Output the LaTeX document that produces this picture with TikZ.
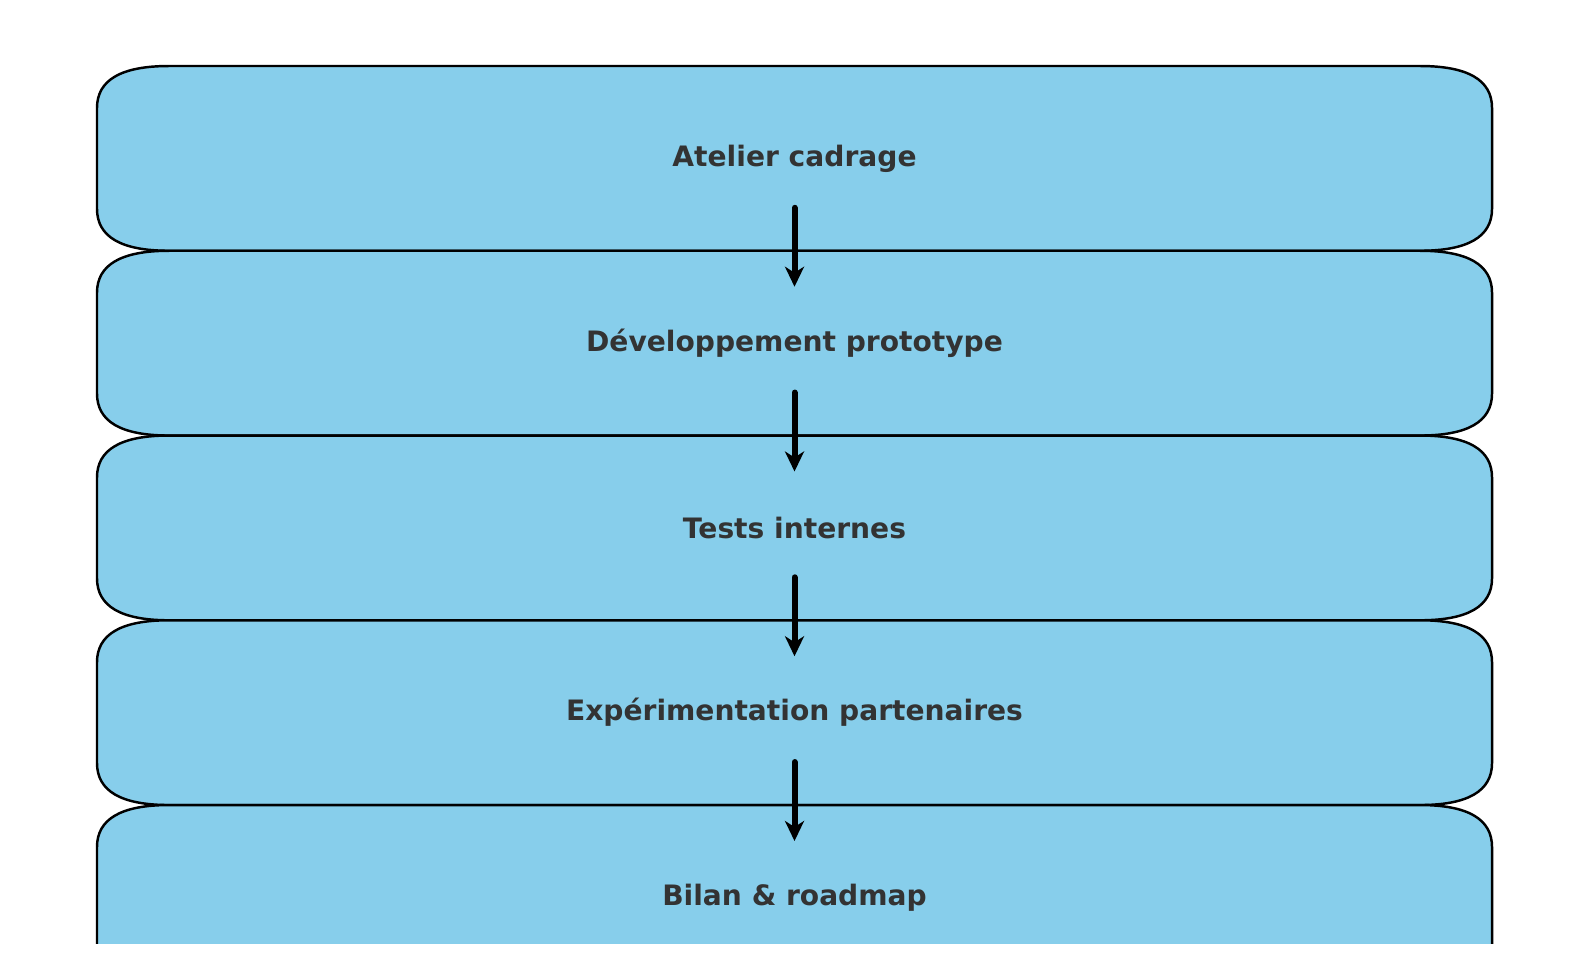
\documentclass[tikz,border=0pt]{standalone}
\usepackage{fontspec}
\setmainfont{DejaVu Sans}
\usetikzlibrary{arrows.meta, positioning, backgrounds}

\definecolor{skyfill}{HTML}{87CEEB}
\definecolor{labelgray}{HTML}{333333}

\tikzset{
  stage/.style={minimum width=13.95cm, minimum height=1.8475cm, inner sep=0pt,
    outer sep=0pt, font=\fontsize{8}{10}\selectfont\bfseries, text=labelgray},
  stagebox/.style={fill=skyfill, draw=black, line width=0.7pt},
  flow/.style={-{Stealth[length=2mm, width=1.9mm, inset=0.6mm]}, line width=1.7pt, line cap=round}
}

\begin{document}
\begin{tikzpicture}[node distance=0pt]
   \useasboundingbox (0,0) rectangle (15.89,9.64);
   \node[stage] (s1) at (7.945,8.056) {Atelier cadrage};
   \node[stage] (s2) [below=of s1] {Développement prototype};
   \node[stage] (s3) [below=of s2] {Tests internes};
   \node[stage] (s4) [below=of s3] {Expérimentation partenaires};
   \node[stage] (s5) [below=of s4] {Bilan \& roadmap};

   % boxes with flat round corners
   \begin{scope}[on background layer]
      \clip (0,0.21) rectangle (15.89,9.64);
      \foreach \n in {s1,s2,s3,s4,s5}
         \path[stagebox] ([xshift=7.2mm]\n.south west) -- ([xshift=-7.2mm]\n.south east)
            .. controls ([xshift=-2.4mm]\n.south east) and ([yshift=1.4mm]\n.south east) .. ([yshift=4.2mm]\n.south east)
            -- ([yshift=-4.2mm]\n.north east)
            .. controls ([yshift=-1.4mm]\n.north east) and ([xshift=-2.4mm]\n.north east) .. ([xshift=-7.2mm]\n.north east)
            -- ([xshift=7.2mm]\n.north west)
            .. controls ([xshift=2.4mm]\n.north west) and ([yshift=-1.4mm]\n.north west) .. ([yshift=-4.2mm]\n.north west)
            -- ([yshift=4.2mm]\n.south west)
            .. controls ([yshift=1.4mm]\n.south west) and ([xshift=2.4mm]\n.south west) .. ([xshift=7.2mm]\n.south west)
            -- cycle;
   \end{scope}

   \draw[flow] ([yshift=4.3mm]s1.south) -- ([yshift=-3.6mm]s2.north);
   \draw[flow] ([yshift=4.3mm]s2.south) -- ([yshift=-3.6mm]s3.north);
   \draw[flow] ([yshift=4.3mm]s3.south) -- ([yshift=-3.6mm]s4.north);
   \draw[flow] ([yshift=4.3mm]s4.south) -- ([yshift=-3.6mm]s5.north);
\end{tikzpicture}
\end{document}
